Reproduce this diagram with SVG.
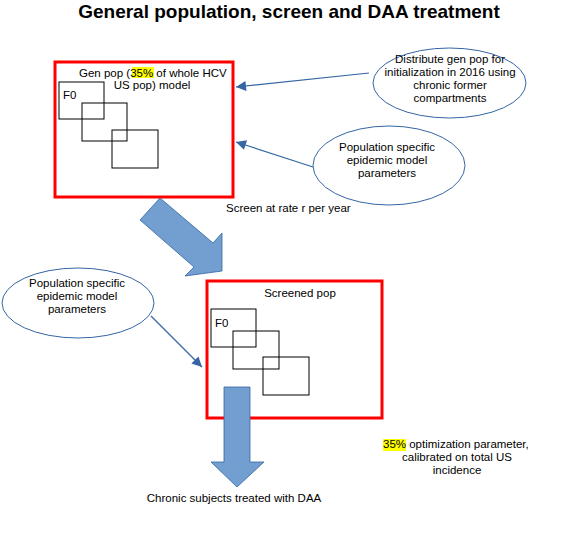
<svg xmlns="http://www.w3.org/2000/svg" width="579" height="537" viewBox="0 0 579 537">
<defs>
<style>
text{font-family:"Liberation Sans",Arial,sans-serif;font-size:11.5px;fill:#000}
.title{font-size:19px;font-weight:bold}
.box{fill:none;stroke:#ff0000;stroke-width:3}
.sub{fill:none;stroke:#000;stroke-width:1}
.ell{fill:#fff;stroke:#3465a4;stroke-width:1}
.hl{fill:#ffff00}
.conn{stroke:#3465a4;stroke-width:1.2;fill:none}
.block{fill:#729fcf;stroke:#3465a4;stroke-width:0.8}
</style>
<marker id="ah" viewBox="0 0 10 10" refX="10" refY="5" markerWidth="13" markerHeight="10" markerUnits="userSpaceOnUse" orient="auto">
<path d="M0,0 L10,5 L0,10 z" fill="#3465a4"/>
</marker>
</defs>
<rect width="579" height="537" fill="#fff"/>
<text class="title" x="289" y="18" text-anchor="middle">General population, screen and DAA treatment</text>

<g id="genpop">
<rect class="box" x="55" y="62" width="178" height="135"/>
<rect class="hl" x="132" y="67" width="22" height="11"/>
<text x="79" y="77">Gen pop (35% of whole HCV</text>
<text x="152" y="89" text-anchor="middle">US pop) model</text>
<rect class="sub" x="59" y="82" width="45" height="37"/>
<rect class="sub" x="82" y="103" width="45" height="38"/>
<rect class="sub" x="112" y="130" width="46" height="38"/>
<text x="63" y="99">F0</text>
</g>

<g id="distribute">
<ellipse class="ell" cx="449.5" cy="83" rx="76.5" ry="35"/>
<text x="450" y="63" text-anchor="middle">Distribute gen pop for</text>
<text x="450" y="76" text-anchor="middle">initialization in 2016 using</text>
<text x="450" y="89" text-anchor="middle">chronic former</text>
<text x="450" y="102" text-anchor="middle">compartments</text>
</g>

<g id="params1">
<ellipse class="ell" cx="389" cy="165.5" rx="76" ry="39.5"/>
<text x="387" y="151" text-anchor="middle">Population specific</text>
<text x="387" y="164" text-anchor="middle">epidemic model</text>
<text x="387" y="177" text-anchor="middle">parameters</text>
</g>

<g id="screenlabel">
<text x="226" y="212">Screen at rate r per year</text>
</g>

<g id="screened">
<rect class="box" x="207" y="281" width="175" height="137"/>
<text x="300" y="297" text-anchor="middle">Screened pop</text>
<rect class="sub" x="211" y="309" width="45" height="38"/>
<rect class="sub" x="233" y="331" width="46" height="38"/>
<rect class="sub" x="263" y="357" width="46" height="38"/>
<text x="215" y="327">F0</text>
</g>

<g id="params2">
<ellipse class="ell" cx="78" cy="303" rx="76" ry="35"/>
<text x="77" y="287" text-anchor="middle">Population specific</text>
<text x="77" y="300" text-anchor="middle">epidemic model</text>
<text x="77" y="313" text-anchor="middle">parameters</text>
</g>

<g id="treated">
<text x="234" y="502" text-anchor="middle">Chronic subjects treated with DAA</text>
</g>

<g id="note">
<rect class="hl" x="383" y="439" width="23" height="12"/>
<text x="383" y="448">35% optimization parameter,</text>
<text x="457" y="461" text-anchor="middle">calibrated on total US</text>
<text x="457" y="474" text-anchor="middle">incidence</text>
</g>

<g id="connectors">
<line class="conn" x1="369" y1="73" x2="236" y2="87" marker-end="url(#ah)"/>
<line class="conn" x1="313" y1="167" x2="236" y2="142" marker-end="url(#ah)"/>
<line class="conn" x1="151" y1="316" x2="202" y2="367" marker-end="url(#ah)"/>
<polygon class="block" points="160,198 213,243 222,233 222,271 185,276 194,267 140,220"/>
<polygon class="block" points="224,387 250,387 250,462 264,462 237,487 211,462 224,462"/>
</g>
</svg>
